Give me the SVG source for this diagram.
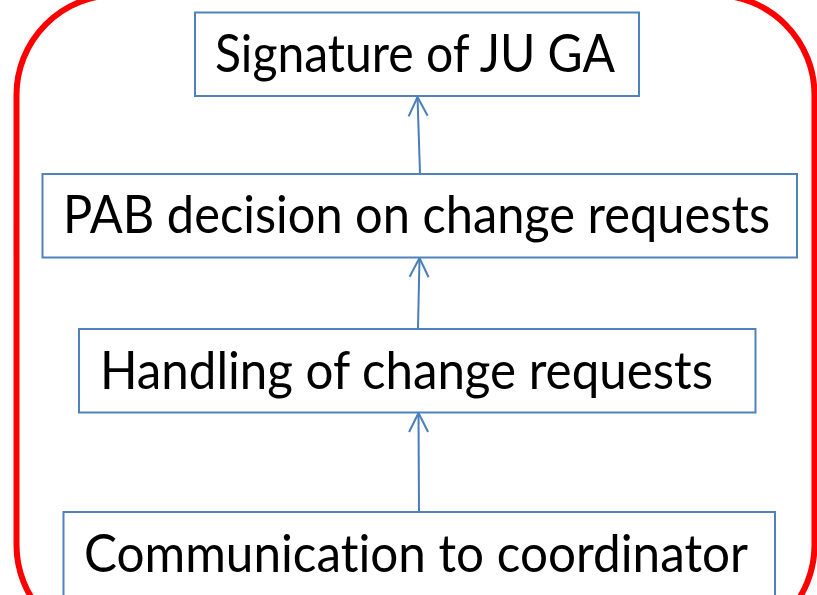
<svg xmlns="http://www.w3.org/2000/svg" width="817" height="595" viewBox="0 0 817 595">
<style>
.box{fill:#fff;stroke:#4f81bd;stroke-width:2}
.lbl{font-family:"Lato","Liberation Sans",sans-serif;font-size:53px;fill:#000;font-variant-ligatures:none;font-feature-settings:"liga" 0,"clig" 0}
.con{fill:none;stroke:#4a7ebb;stroke-width:2}
</style>
<defs>
<marker id="ah" markerUnits="userSpaceOnUse" markerWidth="30" markerHeight="30" refX="0" refY="0" viewBox="-25 -15 30 30" orient="auto" overflow="visible">
<path d="M -19 -9.5 L 0 0 L -19 9.5" fill="none" stroke="#4a7ebb" stroke-width="2"/>
</marker>
</defs>
<rect x="0" y="0" width="817" height="595" fill="#fff"/>
<rect x="16.5" y="-5" width="798" height="650" rx="100" ry="100" fill="none" stroke="#ff0000" stroke-width="6"/>
<g id="connectors">
<line class="con" x1="420" y1="173" x2="417.5" y2="97" marker-end="url(#ah)"/>
<line class="con" x1="418" y1="328" x2="419.5" y2="258" marker-end="url(#ah)"/>
<line class="con" x1="419" y1="511" x2="418.5" y2="413" marker-end="url(#ah)"/>
<line class="con" x1="398" y1="590.5" x2="414" y2="595.5"/>
</g>
<g id="node-signature">
<rect class="box" x="195" y="12.5" width="444" height="83.5"/>
<text class="lbl" x="215" y="72" textLength="400" lengthAdjust="spacingAndGlyphs">Signature of JU GA</text>
</g>
<g id="node-pab">
<rect class="box" x="42.5" y="174" width="754.5" height="83.5"/>
<text class="lbl" x="63" y="233" textLength="707" lengthAdjust="spacingAndGlyphs">PAB decision on change requests</text>
</g>
<g id="node-handling">
<rect class="box" x="79" y="329" width="676.5" height="83.5"/>
<text class="lbl" x="100" y="389" textLength="613" lengthAdjust="spacingAndGlyphs">Handling of change requests</text>
</g>
<g id="node-communication">
<rect class="box" x="63.5" y="512" width="711.5" height="130"/>
<text class="lbl" x="84" y="572" textLength="664" lengthAdjust="spacingAndGlyphs">Communication to coordinator</text>
</g>
</svg>
